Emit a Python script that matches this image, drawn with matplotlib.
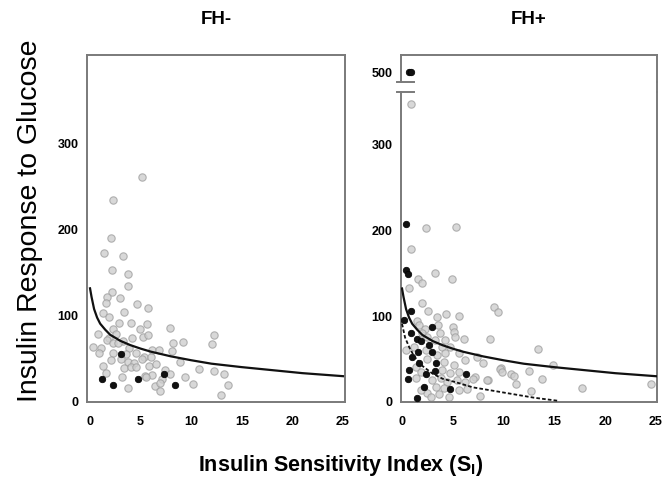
import matplotlib
matplotlib.use("Agg")
import matplotlib.pyplot as plt
from matplotlib.lines import Line2D

plt.rcParams["font.family"] = ["Liberation Sans", "DejaVu Sans"]

# FH- group
fhn_gray_x = [5.15, 2.23, 2.07, 1.42, 3.27, 2.14, 3.75, 3.79, 2.17, 1.65, 1.59, 2.94, 4.6, 5.73,
              1.26, 1.84, 3.33, 2.82, 4.05, 5.66, 2.23, 4.89, 7.9, 0.78, 1.84, 2.56, 3.3, 4.11,
              5.21, 5.73, 0.29, 1.1, 1.65, 2.23, 2.72, 3.85, 8.22, 9.19, 12.26, 12.1, 0.87, 2.3,
              3.53, 4.5, 5.31, 6.12, 6.77, 8.06, 2.07, 3.04, 3.79, 4.34, 5.15, 6.05, 8.87, 1.33,
              3.37, 4.01, 4.5, 5.79, 6.5, 10.81, 12.26, 1.59, 3.14, 5.4, 6.12, 7.41, 7.9, 13.2,
              9.42, 7.09, 6.44, 6.93, 3.79, 10.16, 13.66, 6.93, 12.91, 5.5]
fhn_gray_y = [261, 235, 191, 173, 169, 153.5, 148.5, 135, 127.5, 122.5, 114.7, 120.5, 114, 109,
              103, 98.5, 104, 92, 92, 90.7, 84.5, 84.5, 85.7, 79, 74, 79, 71.3, 74,
              75.2, 78.3, 63.6, 62.4, 72, 68.2, 68.2, 62.4, 69, 69.4, 78, 67.4, 57.4, 56.6,
              55.8, 57.4, 52.7, 60.5, 60.5, 59.7, 48.8, 49.6, 46.9, 45, 49.6, 52.7, 46.1, 41.9,
              39.1, 40.3, 41, 41.9, 43.8, 38.4, 36.4, 33.3, 29.5, 30.2, 31.4, 37.2, 32.6, 32.6,
              28.7, 26.4, 18.6, 21.7, 15.9, 20.9, 19.8, 12.8, 8.1, 28.7]
fhn_black_x = [3.04, 1.2, 2.3, 4.73, 7.28, 8.38]
fhn_black_y = [55.4, 26.4, 19.4, 26.4, 32.9, 19.8]

# FH+ group
fhp_gray_x = [0.88, 2.34, 5.29, 0.88, 3.24, 1.53, 1.95, 4.93, 0.65, 1.95, 9.1, 9.4, 2.6, 3.48,
              4.3, 5.58, 1.43, 1.69, 2.27, 2.01, 3.57, 3.73, 5.0, 5.09, 5.26, 6.07, 8.67, 2.5,
              3.24, 4.28, 4.77, 3.96, 2.34, 0.39, 1.2, 3.47, 4.28, 5.58, 6.23, 7.37, 8.01, 9.74,
              2.5, 4.12, 5.09, 1.36, 1.85, 3.96, 4.77, 5.58, 7.2, 8.5, 1.36, 2.99, 3.8, 4.45,
              5.42, 6.2, 3.31, 4.12, 5.58, 6.4, 2.5, 1.85, 2.82, 3.6, 7.7, 4.6, 7.02, 8.34,
              13.37, 14.83, 9.64, 9.8, 10.7, 11.03, 12.5, 13.8, 11.26, 12.66, 17.69, 24.5]
fhp_gray_y = [346.5, 202, 203.5, 178, 150.4, 142.6, 138, 142.6, 132.2, 115.5, 110, 104.3, 106, 98.5,
              102, 100.5, 94.6, 89.5, 84.5, 79.8, 89.5, 79.8, 86.8, 81, 76, 72.9, 72.9, 75.9,
              72, 72, 64.3, 64.3, 60.5, 60.5, 64.3, 54.7, 56.6, 56.6, 48.8, 52, 45, 39.2,
              49.6, 46.9, 43, 41, 35.3, 37.2, 33.3, 35.3, 29.5, 25.6, 27.5, 25.6, 27.5, 23.6,
              25.6, 23.6, 17.8, 15.9, 14, 14.7, 10.8, 13.6, 6.2, 9.3, 7, 6, 26.4, 25.2,
              61.2, 43, 38, 34.9, 32.2, 30.2, 36.4, 26.7, 20.5, 12.8, 15.9, 21]
fhp_black_x = [0.39, 0.39, 0.62, 0.23, 0.85, 0.9, 1.5, 1.85, 2.99, 2.66, 1.6, 2.92, 0.97, 1.69,
               3.31, 0.71, 2.34, 3.24, 0.55, 6.3, 2.17, 4.77, 1.43, 0.72, 0.86]
fhp_black_y = [206.6, 154, 149, 95, 106, 80, 73, 71, 87, 66, 58, 58, 52, 45.5,
               45, 37, 33, 36.4, 26.7, 32.6, 17.5, 14.7, 5, 500, 500]

# reference curves
solid_x = [0, 0.15, 0.4, 0.7, 1.0, 1.5, 2, 3, 4, 5, 6, 8, 10, 12, 15, 18, 21, 25]
solid_y = [132, 122, 108, 98, 91, 84, 78, 71, 66, 62, 58.5, 53, 48.5, 44.5, 40.5, 37, 33.5, 30]
dash_x = [0, 0.3, 0.7, 1.2, 2, 3, 4, 5.3, 7, 8.5, 10, 11.5, 13, 14.3, 15.3]
dash_y = [91, 75, 64, 53, 42, 33, 27, 23, 17, 14, 11, 8, 5, 3, 1.5]

xticks = [0, 5, 10, 15, 20, 25]

GRAY_FC = "#cfcfcf"
GRAY_EC = "#a0a0a0"
FRAME = "#7a7a7a"

fig = plt.figure(figsize=(6.65, 4.84), dpi=100)
W, H = 665, 484


def box(l, t, r, b):
    return [l / W, (H - b) / H, (r - l) / W, (b - t) / H]


def style(ax):
    for s in ax.spines.values():
        s.set_color(FRAME)
        s.set_linewidth(1.4)
    ax.tick_params(length=0, labelsize=9, pad=6)
    for lab in ax.get_xticklabels() + ax.get_yticklabels():
        lab.set_fontweight("bold")


def dots(ax, gx, gy, bx, by):
    ax.scatter(gx, gy, s=28, c=GRAY_FC, edgecolors=GRAY_EC, linewidths=0.8, alpha=0.8, zorder=2)
    ax.scatter(bx, by, s=22, c="#111111", edgecolors="#000000", linewidths=0.5, zorder=3)


# left panel
ax1 = fig.add_axes(box(87, 55, 345, 402))
dots(ax1, fhn_gray_x, fhn_gray_y, fhn_black_x, fhn_black_y)
ax1.plot(solid_x, solid_y, color="#111111", lw=1.6, zorder=4)
ax1.set_xlim(-0.3, 25.2)
ax1.set_ylim(0, 403)
ax1.set_xticks(xticks)
ax1.set_yticks([0, 100, 200, 300])
style(ax1)
ax1.tick_params(axis="x", pad=10)

# right panel, broken y axis
ax2 = fig.add_axes(box(401, 92, 657, 402))
ax3 = fig.add_axes(box(401, 55, 657, 82), sharex=ax2)
for ax in (ax2, ax3):
    dots(ax, fhp_gray_x, fhp_gray_y, fhp_black_x, fhp_black_y)
ax2.plot(solid_x, solid_y, color="#111111", lw=1.6, zorder=4)
ax2.plot(dash_x, dash_y, color="#111111", lw=1.3, ls=(0, (2, 1.2)), zorder=4)
ax2.set_xlim(-0.1, 25.1)
ax2.set_ylim(0, 360.5)
ax2.set_xticks(xticks)
ax2.set_yticks([0, 100, 200, 300])
ax3.set_ylim(488.4, 519.8)
ax3.set_yticks([500])
ax2.spines["top"].set_visible(False)
ax3.spines["bottom"].set_visible(False)
style(ax2)
style(ax3)
ax2.tick_params(axis="x", pad=10)
ax3.tick_params(axis="x", labelbottom=False)

# break marks and the continuous right frame edge
for ax, yy in ((ax3, 0), (ax2, 1)):
    ax.add_line(Line2D([-0.016, 0.05], [yy, yy], transform=ax.transAxes, color=FRAME,
                       lw=1.4, clip_on=False))
fig.add_artist(Line2D([657 / W, 657 / W], [(H - 92) / H, (H - 82) / H], color=FRAME, lw=1.4))

fig.text(216 / W, 1 - 20 / H, "FH-", ha="center", va="center", fontsize=13.5, fontweight="bold")
fig.text(529 / W, 1 - 20 / H, "FH+", ha="center", va="center", fontsize=13.5, fontweight="bold")
fig.text(30 / W, 1 - 221 / H, "Insulin Response to Glucose", rotation=90, ha="center",
         va="center", fontsize=20.5)
fig.text(341 / W, 1 - 466 / H, r"Insulin Sensitivity Index (S$_\mathregular{I}$)", ha="center",
         va="center", fontsize=15.5, fontweight="bold")

fig.savefig("out.png", dpi=100)
